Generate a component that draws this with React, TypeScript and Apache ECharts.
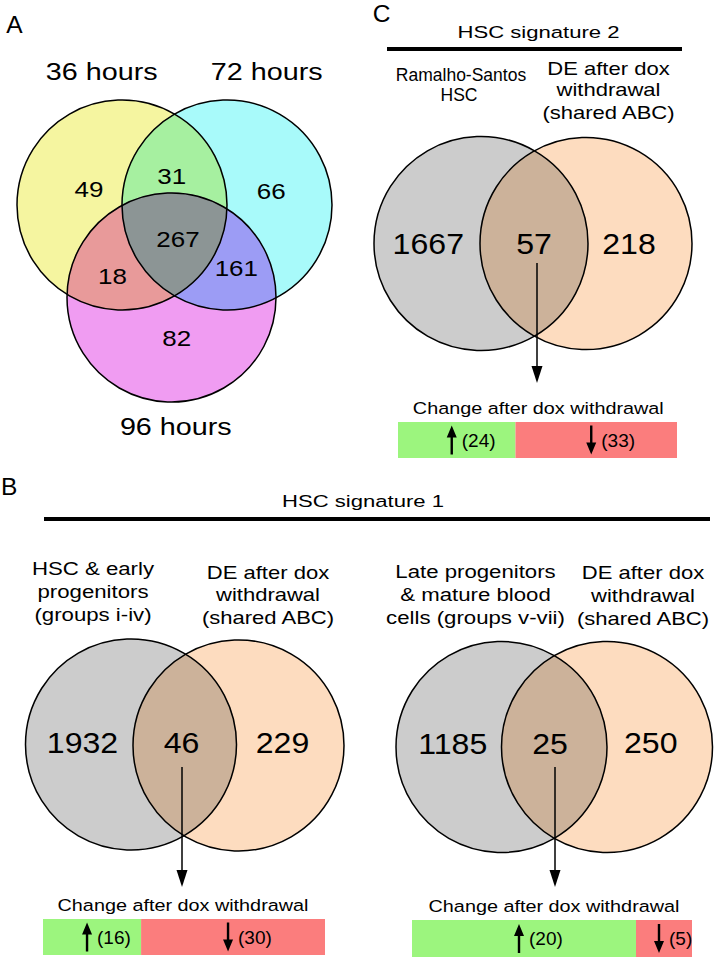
import React, { useEffect, useRef } from 'react';
import * as echarts from 'echarts';

const FONT = '"Liberation Sans", Arial, Helvetica, sans-serif';

// ---------- data ----------
const panelLetters = ['A', 'B', 'C'];
const hourLabels = ['36 hours', '72 hours', '96 hours'];
// Venn A region counts: only 36h, 36&72, only 72h, all three, 36&96, 72&96, only 96h
const vennACounts = [49, 31, 66, 267, 18, 161, 82];

const sig1Title = 'HSC signature 1';
const sig2Title = 'HSC signature 2';
const b1SetLabels = ['HSC & early', 'progenitors', '(groups i-iv)'];
const b2SetLabels = ['Late progenitors', '& mature blood', 'cells (groups v-vii)'];
const cSetLabels = ['Ramalho-Santos', 'HSC'];
const deLabels = ['DE after dox', 'withdrawal', '(shared ABC)'];

// [left only, shared, right only]
const vennB1Counts = [1932, 46, 229];
const vennB2Counts = [1185, 25, 250];
const vennCCounts = [1667, 57, 218];

const changeTitle = 'Change after dox withdrawal';
// order: B1 (left), B2 (right), C
const changeUp = [16, 20, 24];
const changeDown = [30, 5, 33];

// ---------- styling ----------
const YELLOW = '#f5f5a0';
const CYAN = '#a8fafa';
const PINK = '#f09cf2';
const GREEN_L = '#a6f0a0';
const RED_L = '#e89a9a';
const BLUE_L = '#9c9cf5';
const CENTER = '#8c9595';
const GRAY = '#cccccc';
const PEACH = '#fddcbf';
const LENS = '#ccb29a';
const BAR_GREEN = '#9cf57e';
const BAR_RED = '#fb7d7d';

const UP_PATH = 'path://M5,0 L10,12 L6.2,12 L6.2,29 L3.8,29 L3.8,12 L0,12 Z';
const DOWN_PATH = 'path://M3.8,0 L6.2,0 L6.2,17 L10,17 L5,29 L0,17 L3.8,17 Z';

type Circ = { cx: number; cy: number; r: number };

function intersectionPolygon(cs: Circ[]): number[][] {
  const pts: number[][] = [];
  cs.forEach((c, i) => {
    const n = 720;
    for (let k = 0; k < n; k++) {
      const a = (k / n) * Math.PI * 2;
      const x = c.cx + c.r * Math.cos(a);
      const y = c.cy + c.r * Math.sin(a);
      const ok = cs.every(
        (o, j) => j === i || (x - o.cx) * (x - o.cx) + (y - o.cy) * (y - o.cy) <= o.r * o.r + 1e-6
      );
      if (ok) pts.push([x, y]);
    }
  });
  const mx = pts.reduce((s, p) => s + p[0], 0) / pts.length;
  const my = pts.reduce((s, p) => s + p[1], 0) / pts.length;
  pts.sort((p, q) => Math.atan2(p[1] - my, p[0] - mx) - Math.atan2(q[1] - my, q[0] - mx));
  return pts;
}

function txt(text: string, x: number, y: number, size: number, sx = 1): any {
  return {
    type: 'text',
    x,
    y,
    scaleX: sx,
    z: 10,
    silent: true,
    style: {
      text,
      x: 0,
      y: 0,
      fill: '#000',
      fontSize: size,
      fontFamily: FONT,
      align: 'center',
      verticalAlign: 'middle',
      textAlign: 'center',
      textVerticalAlign: 'middle',
    },
  };
}

function circleFill(c: Circ, fill: string): any {
  return { type: 'circle', z: 1, silent: true, shape: { ...c }, style: { fill, stroke: 'none' } };
}
function circleStroke(c: Circ): any {
  return {
    type: 'circle',
    z: 4,
    silent: true,
    shape: { ...c },
    style: { fill: 'none', stroke: '#000', lineWidth: 1.5 },
  };
}
function region(cs: Circ[], fill: string, z: number): any {
  return {
    type: 'polygon',
    z,
    silent: true,
    shape: { points: intersectionPolygon(cs) },
    style: { fill, stroke: fill, lineWidth: 0.5 },
  };
}
function vArrow(x: number, y1: number, y2: number): any[] {
  return [
    {
      type: 'line',
      z: 6,
      silent: true,
      shape: { x1: x, y1, x2: x, y2: y2 - 14 },
      style: { stroke: '#000', lineWidth: 1.5 },
    },
    {
      type: 'polygon',
      z: 6,
      silent: true,
      shape: { points: [[x - 5.5, y2 - 17], [x + 5.5, y2 - 17], [x, y2]] },
      style: { fill: '#000' },
    },
  ];
}
function twoSetVenn(a: Circ, b: Circ): any[] {
  return [circleFill(a, GRAY), circleFill(b, PEACH), region([a, b], LENS, 2), circleStroke(a), circleStroke(b)];
}

export default function App() {
  const ref = useRef<HTMLDivElement>(null);

  useEffect(() => {
    if (!ref.current) return;
    const chart = echarts.init(ref.current, undefined, { renderer: 'svg' });

    // ---------- Panel A ----------
    const cY: Circ = { cx: 122, cy: 205, r: 105 };
    const cC: Circ = { cx: 227, cy: 205, r: 105 };
    const cP: Circ = { cx: 171.5, cy: 297.5, r: 104.5 };
    const aPos = [
      [89, 189.5],
      [171.7, 176],
      [271.3, 191],
      [178, 239.5],
      [112.5, 276.7],
      [236.3, 268.3],
      [176.7, 338.3],
    ];
    const panelA: any[] = [
      circleFill(cY, YELLOW),
      circleFill(cC, CYAN),
      circleFill(cP, PINK),
      region([cY, cC], GREEN_L, 2),
      region([cY, cP], RED_L, 2),
      region([cC, cP], BLUE_L, 2),
      region([cY, cC, cP], CENTER, 3),
      circleStroke(cY),
      circleStroke(cC),
      circleStroke(cP),
      txt(panelLetters[0], 14.3, 24.2, 24.5),
      txt(hourLabels[0], 101.7, 72, 23, 1.25),
      txt(hourLabels[1], 266.7, 72, 23, 1.25),
      txt(hourLabels[2], 175.8, 426.7, 23, 1.25),
      ...vennACounts.map((v, i) => txt(String(v), aPos[i][0], aPos[i][1], 22, 1.18)),
    ];

    // ---------- Panel C ----------
    const cG: Circ = { cx: 481, cy: 243.5, r: 107 };
    const cPe: Circ = { cx: 586, cy: 243.5, r: 106 };
    const panelC: any[] = [
      txt(panelLetters[2], 381.7, 13.8, 24.5),
      txt(sig2Title, 538.5, 31.7, 17, 1.3),
      { type: 'rect', z: 5, silent: true, shape: { x: 387, y: 47, width: 295, height: 4 }, style: { fill: '#000' } },
      txt(cSetLabels[0], 461, 75.3, 17.5, 1.0),
      txt(cSetLabels[1], 459, 94.5, 17.5, 1.0),
      txt(deLabels[0], 608.5, 68.3, 18.5, 1.19),
      txt(deLabels[1], 608.5, 89.5, 18.5, 1.19),
      txt(deLabels[2], 608.5, 113, 18.5, 1.19),
      ...twoSetVenn(cG, cPe),
      txt(String(vennCCounts[0]), 428.3, 244, 30, 1.07),
      txt(String(vennCCounts[1]), 534, 244, 30, 1.07),
      txt(String(vennCCounts[2]), 629, 244, 30, 1.07),
      ...vArrow(537, 263, 383),
      txt(changeTitle, 538.3, 409, 16.5, 1.2),
    ];

    // ---------- Panel B ----------
    const b1G: Circ = { cx: 131, cy: 744.5, r: 105.5 };
    const b1P: Circ = { cx: 238.5, cy: 745.5, r: 105.5 };
    const b2G: Circ = { cx: 501.5, cy: 747, r: 105.5 };
    const b2P: Circ = { cx: 607, cy: 747, r: 105.5 };
    const panelB: any[] = [
      txt(panelLetters[1], 9.2, 486.2, 24.5),
      txt(sig1Title, 363, 500.5, 17, 1.3),
      { type: 'rect', z: 5, silent: true, shape: { x: 44, y: 517, width: 666, height: 4 }, style: { fill: '#000' } },
      ...b1SetLabels.map((t, i) => txt(t, 93, 568.5 + i * 23, 18.5, 1.2)),
      ...deLabels.map((t, i) => txt(t, 268, 572.2 + i * 22.7, 18.5, 1.19)),
      ...b2SetLabels.map((t, i) => txt(t, 475.5, 571.5 + i * 23, 18.5, 1.2)),
      ...deLabels.map((t, i) => txt(t, 643, 573 + i * 22.8, 18.5, 1.19)),
      ...twoSetVenn(b1G, b1P),
      ...twoSetVenn(b2G, b2P),
      txt(String(vennB1Counts[0]), 82.5, 742.5, 30, 1.07),
      txt(String(vennB1Counts[1]), 181.5, 742.5, 30, 1.07),
      txt(String(vennB1Counts[2]), 282.5, 742.5, 30, 1.07),
      txt(String(vennB2Counts[0]), 452.8, 744, 30, 1.07),
      txt(String(vennB2Counts[1]), 550, 744, 30, 1.07),
      txt(String(vennB2Counts[2]), 650.8, 743, 30, 1.07),
      ...vArrow(182, 767, 887),
      ...vArrow(555, 767, 887),
      txt(changeTitle, 183, 905.8, 16.5, 1.2),
      txt(changeTitle, 554, 907, 16.5, 1.2),
    ];

    // ---------- change bars ----------
    const grids = [
      { left: 43, top: 919, width: 282, height: 36 },
      { left: 412, top: 920, width: 280, height: 37 },
      { left: 398, top: 422, width: 279, height: 36 },
    ];
    const xAxes = grids.map((_, i) => ({
      type: 'value',
      gridIndex: i,
      min: 0,
      max: changeUp[i] + changeDown[i],
      show: false,
    }));
    const yAxes = grids.map((_, i) => ({
      type: 'category',
      gridIndex: i,
      data: ['change'],
      show: false,
    }));
    const labelStyle = {
      show: true,
      position: 'inside',
      align: 'left',
      offset: [5, 0],
      formatter: '({c})',
      color: '#000',
      fontSize: 19,
      fontFamily: FONT,
    };
    const series: any[] = [];
    grids.forEach((_, i) => {
      series.push(
        {
          type: 'bar',
          xAxisIndex: i,
          yAxisIndex: i,
          stack: 's' + i,
          barWidth: '100%',
          silent: true,
          data: [changeUp[i]],
          itemStyle: { color: BAR_GREEN },
          label: labelStyle,
        },
        {
          type: 'bar',
          xAxisIndex: i,
          yAxisIndex: i,
          stack: 's' + i,
          barWidth: '100%',
          silent: true,
          data: [changeDown[i]],
          itemStyle: { color: BAR_RED },
          label: labelStyle,
        },
        {
          type: 'scatter',
          xAxisIndex: i,
          yAxisIndex: i,
          silent: true,
          z: 5,
          symbol: UP_PATH,
          symbolSize: [10, 29],
          symbolOffset: [-5, 0],
          itemStyle: { color: '#000', opacity: 1 },
          data: [[changeUp[i] / 2, 0]],
        },
        {
          type: 'scatter',
          xAxisIndex: i,
          yAxisIndex: i,
          silent: true,
          z: 5,
          symbol: DOWN_PATH,
          symbolSize: [10, 29],
          symbolOffset: [-5, 0],
          itemStyle: { color: '#000', opacity: 1 },
          data: [[changeUp[i] + changeDown[i] / 2, 0]],
        }
      );
    });

    chart.setOption({
      backgroundColor: '#ffffff',
      animation: false,
      grid: grids,
      xAxis: xAxes,
      yAxis: yAxes,
      series,
      graphic: { elements: [...panelA, ...panelC, ...panelB] },
    });

    return () => chart.dispose();
  }, []);

  return (
    <div
      ref={ref}
      style={{ position: 'absolute', left: 0, top: 0, width: 714, height: 957, background: '#fff' }}
    />
  );
}
